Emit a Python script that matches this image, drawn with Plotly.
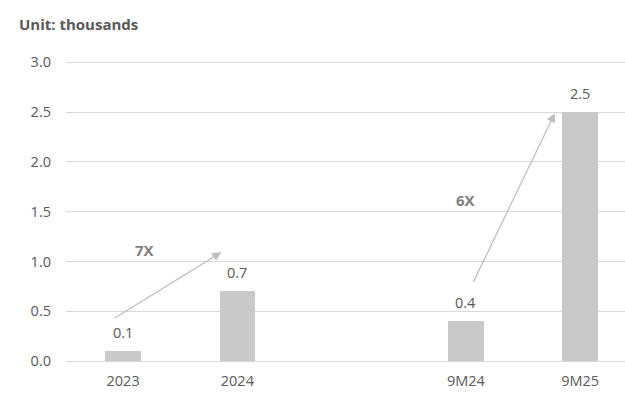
import plotly.graph_objects as go

categories = ["2023", "2024", "", "9M24", "9M25"]
values = [0.1, 0.7, None, 0.4, 2.5]
value_labels = ["0.1", "0.7", "", "0.4", "2.5"]
y_ticks = [0, 0.5, 1.0, 1.5, 2.0, 2.5, 3.0]
y_tick_labels = ["0.0", "0.5", "1.0", "1.5", "2.0", "2.5", "3.0"]
growth_labels = ["7X", "6X"]

FONT = "Open Sans"
TXT = "#595959"
FS = 14.5
xs = list(range(len(categories)))
bx = [x for x, v in zip(xs, values) if v is not None]
bv = [v for v in values if v is not None]

fig = go.Figure()
fig.add_trace(go.Bar(x=bx, y=bv, width=0.31, marker=dict(color="#c9c9c9", line=dict(width=0)),
                     hoverinfo="skip"))

annotations = []
for x, v, lab in zip(xs, values, value_labels):
    if v is None:
        continue
    annotations.append(dict(x=x, y=v, text=lab, showarrow=False, yanchor="bottom",
                            yshift=7, font=dict(family=FONT, size=FS, color=TXT)))

# growth arrows
annotations.append(dict(x=0.86, y=1.093, ax=-0.09, ay=0.42, xref="x", yref="y", axref="x", ayref="y",
                        showarrow=True, arrowhead=2, arrowsize=1.4, arrowwidth=1.3, arrowcolor="#bfbfbf", text=""))
annotations.append(dict(x=3.78, y=2.49, ax=3.06, ay=0.78, xref="x", yref="y", axref="x", ayref="y",
                        showarrow=True, arrowhead=2, arrowsize=1.4, arrowwidth=1.3, arrowcolor="#bfbfbf", text=""))
annotations.append(dict(x=0.19, y=1.12, text="<b>%s</b>" % growth_labels[0], showarrow=False,
                        font=dict(family=FONT, size=15, color="#7f7f7f")))
annotations.append(dict(x=3.0, y=1.615, text="<b>%s</b>" % growth_labels[1], showarrow=False,
                        font=dict(family=FONT, size=15, color="#7f7f7f")))
annotations.append(dict(x=(17 - 66) / 559, y=(394 - 33 - 24) / 299, xref="paper", yref="paper",
                        text="<b>Unit: thousands</b>", showarrow=False, xanchor="left", yanchor="middle",
                        font=dict(family=FONT, size=15, color=TXT)))

fig.add_shape(type="line", xref="paper", yref="y", x0=0, x1=1, y0=y_ticks[-1], y1=y_ticks[-1],
              line=dict(color="#d9d9d9", width=1), layer="below")

fig.update_layout(
    width=625, height=394,
    margin=dict(l=66, r=0, t=62, b=33),
    paper_bgcolor="white", plot_bgcolor="white",
    showlegend=False,
    bargap=0,
    font=dict(family=FONT, size=FS, color=TXT),
    xaxis=dict(range=[-0.5, 4.393], tickmode="array",
               tickvals=[x for x, c in zip(xs, categories) if c],
               ticktext=[c for c in categories if c],
               showgrid=False, zeroline=False, showline=False, ticks="", ticklabelstandoff=9,
               tickfont=dict(family=FONT, size=FS, color=TXT), fixedrange=True),
    yaxis=dict(range=[0, 3.004], tickmode="array", tickvals=y_ticks, ticktext=y_tick_labels,
               showgrid=True, gridcolor="#d9d9d9", gridwidth=1, zeroline=True, zerolinecolor="#d9d9d9",
               zerolinewidth=1, showline=False, ticks="", ticklabelstandoff=14,
               tickfont=dict(family=FONT, size=FS, color=TXT), fixedrange=True),
    annotations=annotations,
)

fig.write_html("out.html", config={"displayModeBar": False},
               post_script="document.body.style.margin='0';document.body.style.overflow='hidden';")
